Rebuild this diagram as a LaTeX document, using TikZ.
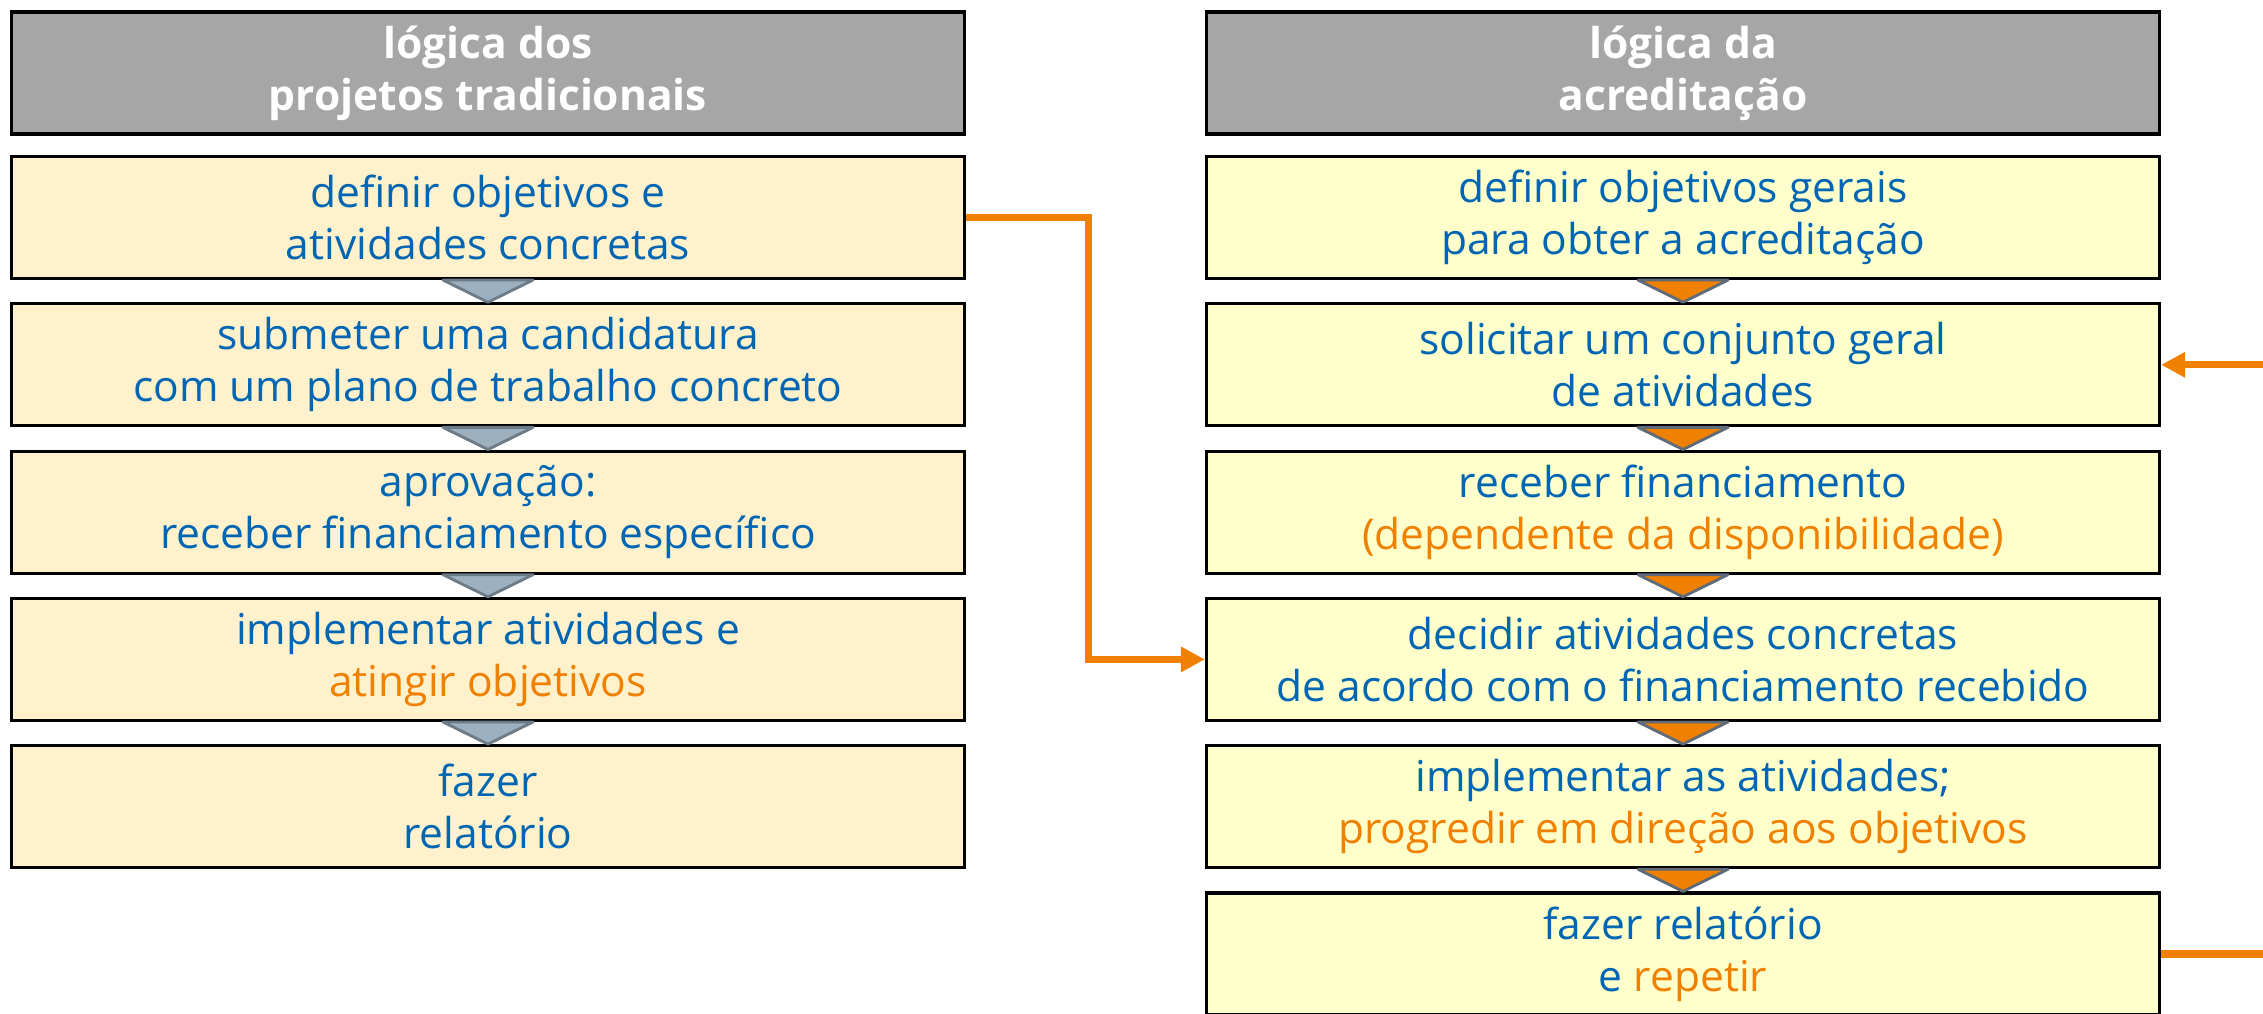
\documentclass[tikz,border=0pt]{standalone}
\usepackage{fontspec}
\setmainfont{Open Sans}
\usepackage{tikz}
\usetikzlibrary{arrows.meta}

\definecolor{hdrgray}{HTML}{A6A6A6}
\definecolor{creamL}{HTML}{FFF1CC}
\definecolor{creamR}{HTML}{FFFFCC}
\definecolor{txtblue}{HTML}{0066B3}
\definecolor{accorange}{HTML}{F08000}
\definecolor{trigray}{HTML}{9CB0C0}
\definecolor{triedge}{HTML}{5F6B78}

\begin{document}
\begin{tikzpicture}[
        box/.style={draw=black, line width=0.9pt, minimum width=9.53cm, minimum height=1.22cm,
            align=center, text=txtblue, font=\fontsize{12.1}{14.8}\selectfont, inner sep=0pt},
        hdr/.style={box, fill=hdrgray, text=white, font=\fontsize{12.1}{14.8}\selectfont\bfseries},
        boxL/.style={box, fill=creamL},
        boxR/.style={box, fill=creamR},
        triL/.style={draw=trigray!70!black, fill=trigray, line width=0.8pt, line join=round},
        triR/.style={draw=triedge, fill=accorange, line width=0.8pt, line join=round},
        flow/.style={draw=accorange, line width=2pt, -{Triangle[length=2.4mm,width=2.4mm]}},
    ]
    \useasboundingbox (0,0) rectangle (22.63,-10.13);
    \clip (0,0) rectangle (22.63,-10.13);
    % traditional projects
    \node[hdr] (lh) at (4.88,-0.73) {lógica dos\\projetos tradicionais};
    \node[boxL] (l1) at (4.88,-2.175) {definir objetivos e\\atividades concretas};
    \node[boxL] (l2) at (4.88,-3.648) {submeter uma candidatura\\com um plano de trabalho concreto};
    \node[boxL] (l3) at (4.88,-5.121) {aprovação:\\receber financiamento específico};
    \node[boxL] (l4) at (4.88,-6.594) {implementar atividades e\\\textcolor{accorange}{atingir objetivos}};
    \node[boxL] (l5) at (4.88,-8.067) {fazer\\relatório};
    % accreditation
    \node[hdr] (rh) at (16.83,-0.73) {lógica da\\acreditação};
    \node[boxR] (r1) at (16.83,-2.175) {definir objetivos gerais\\para obter a acreditação};
    \node[boxR] (r2) at (16.83,-3.648) {solicitar um conjunto geral\\de atividades};
    \node[boxR] (r3) at (16.83,-5.121) {receber financiamento\\\textcolor{accorange}{(dependente da disponibilidade)}};
    \node[boxR] (r4) at (16.83,-6.594) {decidir atividades concretas\\de acordo com o financiamento recebido};
    \node[boxR] (r5) at (16.83,-8.067) {implementar as atividades;\\\textcolor{accorange}{progredir em direção aos objetivos}};
    \node[boxR] (r6) at (16.83,-9.54) {fazer relatório\\e \textcolor{accorange}{repetir}};
    % step markers
    \draw[triL] ([xshift=-0.45cm]l1.south) -- ([xshift=0.45cm]l1.south) -- (l2.north) -- cycle;
    \draw[triL] ([xshift=-0.45cm]l2.south) -- ([xshift=0.45cm]l2.south) -- (l3.north) -- cycle;
    \draw[triL] ([xshift=-0.45cm]l3.south) -- ([xshift=0.45cm]l3.south) -- (l4.north) -- cycle;
    \draw[triL] ([xshift=-0.45cm]l4.south) -- ([xshift=0.45cm]l4.south) -- (l5.north) -- cycle;
    \draw[triR] ([xshift=-0.45cm]r1.south) -- ([xshift=0.45cm]r1.south) -- (r2.north) -- cycle;
    \draw[triR] ([xshift=-0.45cm]r2.south) -- ([xshift=0.45cm]r2.south) -- (r3.north) -- cycle;
    \draw[triR] ([xshift=-0.45cm]r3.south) -- ([xshift=0.45cm]r3.south) -- (r4.north) -- cycle;
    \draw[triR] ([xshift=-0.45cm]r4.south) -- ([xshift=0.45cm]r4.south) -- (r5.north) -- cycle;
    \draw[triR] ([xshift=-0.45cm]r5.south) -- ([xshift=0.45cm]r5.south) -- (r6.north) -- cycle;
    % links
    \draw[flow] (l1.east) -- ++(1.22,0) |- (r4.west);
    \draw[flow] (r6.east) -- ++(1.6,0) |- (r2.east);
\end{tikzpicture}
\end{document}
